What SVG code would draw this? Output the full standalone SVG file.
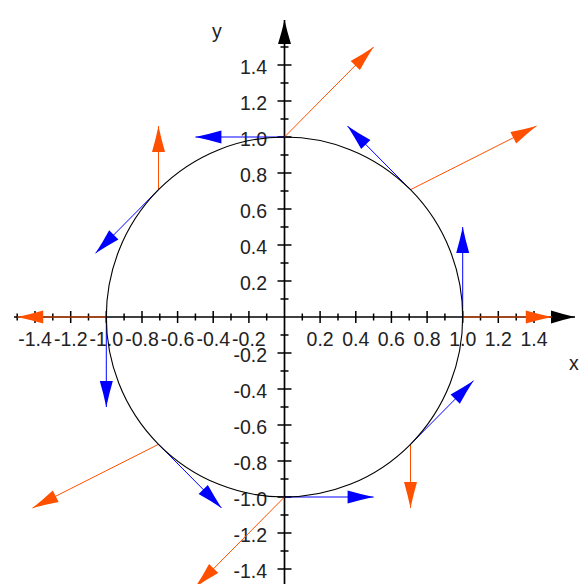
<svg xmlns="http://www.w3.org/2000/svg" width="582" height="584" viewBox="0 0 582 584">
<style>
text{font-family:"Liberation Sans",Arial,sans-serif;font-size:19.5px;fill:#222}
.xl{text-anchor:middle}
.yl{text-anchor:end}
.ax{stroke:#000;stroke-width:1.7;fill:none}
.tk{stroke:#000;stroke-width:1.5;fill:none}
.bv{stroke:#0000ff;stroke-width:1;fill:none;marker-end:url(#hb)}
.ov{stroke:#ff5000;stroke-width:1;fill:none;marker-end:url(#ho)}
</style>
<defs>
<marker id="hb" markerUnits="userSpaceOnUse" viewBox="-28 -7 28 14" refX="0" refY="0" markerWidth="28" markerHeight="14" orient="auto" overflow="visible"><path d="M0,0 L-13,-3 L-26,-6.5 L-26,6.5 L-13,3 Z" fill="#0000ff"/></marker>
<marker id="ho" markerUnits="userSpaceOnUse" viewBox="-28 -7 28 14" refX="0" refY="0" markerWidth="28" markerHeight="14" orient="auto" overflow="visible"><path d="M0,0 L-13,-3 L-26,-6.5 L-26,6.5 L-13,3 Z" fill="#ff5000"/></marker>
<marker id="hk" markerUnits="userSpaceOnUse" viewBox="-28 -7 28 14" refX="0" refY="0" markerWidth="28" markerHeight="14" orient="auto" overflow="visible"><path d="M0,0 L-12,-3 L-24,-6.5 L-24,6.5 L-12,3 Z" fill="#000"/></marker>
</defs>
<rect width="582" height="584" fill="#fff"/>
<g id="tick-labels">
<text class="xl" x="35" y="345.5">-1.4</text>
<text class="xl" x="70.7" y="345.5">-1.2</text>
<text class="xl" x="106.3" y="345.5">-1.0</text>
<text class="xl" x="142" y="345.5">-0.8</text>
<text class="xl" x="177.6" y="345.5">-0.6</text>
<text class="xl" x="213.2" y="345.5">-0.4</text>
<text class="xl" x="248.9" y="345.5">-0.2</text>
<text class="xl" x="320.1" y="345.5">0.2</text>
<text class="xl" x="355.8" y="345.5">0.4</text>
<text class="xl" x="391.4" y="345.5">0.6</text>
<text class="xl" x="427.1" y="345.5">0.8</text>
<text class="xl" x="462.7" y="345.5">1.0</text>
<text class="xl" x="498.3" y="345.5">1.2</text>
<text class="xl" x="534" y="345.5">1.4</text>
<text class="yl" x="267" y="74">1.4</text>
<text class="yl" x="267" y="110">1.2</text>
<text class="yl" x="267" y="146">1.0</text>
<text class="yl" x="267" y="182">0.8</text>
<text class="yl" x="267" y="218">0.6</text>
<text class="yl" x="267" y="254">0.4</text>
<text class="yl" x="267" y="290">0.2</text>
<text class="yl" x="267" y="362">-0.2</text>
<text class="yl" x="267" y="398">-0.4</text>
<text class="yl" x="267" y="434">-0.6</text>
<text class="yl" x="267" y="470">-0.8</text>
<text class="yl" x="267" y="506">-1.0</text>
<text class="yl" x="267" y="542">-1.2</text>
<text class="yl" x="267" y="578">-1.4</text>
<text x="569" y="370">x</text>
<text x="212" y="38">y</text>
</g>
<g id="axes">
<path class="ax" d="M14,317 H575" marker-end="url(#hk)"/>
<path class="ax" d="M284.5,584 V20" marker-end="url(#hk)"/>
<path class="tk" d="M35,311v12M70.7,311v12M106.3,311v12M142,311v12M177.6,311v12M213.2,311v12M248.9,311v12M320.1,311v12M355.8,311v12M391.4,311v12M427.1,311v12M462.7,311v12M498.3,311v12M534,311v12"/>
<path class="tk" d="M17.2,313.5v7M52.8,313.5v7M88.5,313.5v7M124.1,313.5v7M159.8,313.5v7M195.4,313.5v7M231,313.5v7M266.7,313.5v7M302.3,313.5v7M338,313.5v7M373.6,313.5v7M409.2,313.5v7M444.9,313.5v7M480.5,313.5v7M516.2,313.5v7M551.8,313.5v7"/>
<path class="tk" d="M277.5,65h14M277.5,101h14M277.5,137h14M277.5,173h14M277.5,209h14M277.5,245h14M277.5,281h14M277.5,353h14M277.5,389h14M277.5,425h14M277.5,461h14M277.5,497h14M277.5,533h14M277.5,569h14"/>
<path class="tk" d="M280.5,47h8M280.5,83h8M280.5,119h8M280.5,155h8M280.5,191h8M280.5,227h8M280.5,263h8M280.5,299h8M280.5,335h8M280.5,371h8M280.5,407h8M280.5,443h8M280.5,479h8M280.5,515h8M280.5,551h8"/>
</g>
<g id="vectors">
<path class="ov" d="M462.7,317 L551.8,317"/>
<path class="ov" d="M410.5,189.7 L536.5,126.05"/>
<path class="ov" d="M284.5,137 L373.6,47"/>
<path class="ov" d="M158.5,189.7 L158.5,126.05"/>
<path class="ov" d="M106.3,317 L17.2,317"/>
<path class="ov" d="M158.5,444.3 L32.5,507.95"/>
<path class="ov" d="M284.5,497 L195.4,587"/>
<path class="ov" d="M410.5,444.3 L410.5,507.95"/>
<path class="bv" d="M462.7,317 L462.7,227"/>
<path class="bv" d="M410.5,189.7 L347.5,126.05"/>
<path class="bv" d="M284.5,137 L195.4,137"/>
<path class="bv" d="M158.5,189.7 L95.5,253.3"/>
<path class="bv" d="M106.3,317 L106.3,407"/>
<path class="bv" d="M158.5,444.3 L221.5,507.95"/>
<path class="bv" d="M284.5,497 L373.6,497"/>
<path class="bv" d="M410.5,444.3 L473.5,380.65"/>
</g>
<g id="circle">
<ellipse cx="284.5" cy="317" rx="178.2" ry="180" fill="none" stroke="#000" stroke-width="1.1"/>
</g>
</svg>
